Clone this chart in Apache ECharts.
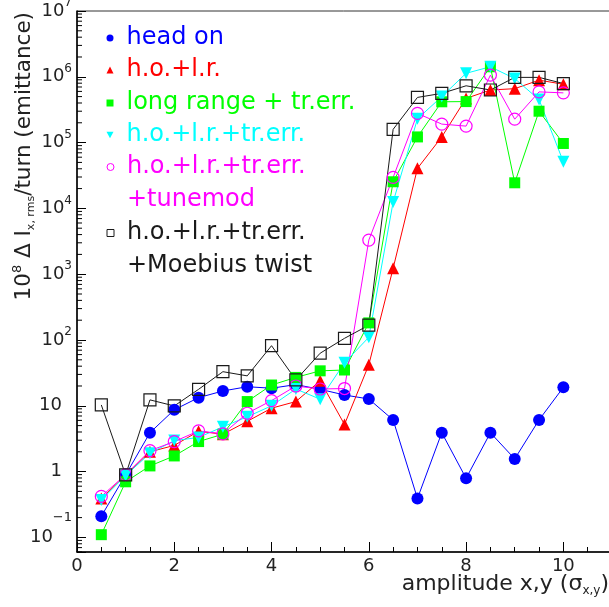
<!DOCTYPE html>
<html><head><meta charset="utf-8">
<script src="https://cdn.jsdelivr.net/npm/echarts@6/dist/echarts.min.js"></script>
<style>html,body{margin:0;padding:0;background:#fff}#c{width:609px;height:607px}</style>
</head><body><div id="c"></div>
<script>
// ---- data ----
const amplitudes = [0.5, 1, 1.5, 2, 2.5, 3, 3.5, 4, 4.5, 5, 5.5, 6, 6.5, 7, 7.5, 8, 8.5, 9, 9.5, 10];
const headOn   = [0.21, 0.89, 3.9, 8.7, 13.3, 16.8, 19.5, 18.5, 21, 17.8, 14.6, 12.7, 6.1, 0.39, 3.9, 0.79, 3.9, 1.56, 6.1, 19.1];
const hoLr     = [0.39, 0.88, 2.0, 2.5, 4.1, 3.7, 5.8, 9.2, 11.6, 24, 5.2, 42, 1230, 40600, 122000, 470000, 630000, 660000, 890000, 770000];
const lrTrErr  = [0.11, 0.70, 1.22, 1.73, 2.86, 3.7, 11.6, 20.7, 27, 34, 35, 182, 25400, 122000, 417000, 420000, 1420000, 24500, 300000, 97000];
const hoLrTr   = [0.37, 0.87, 1.9, 2.96, 3.3, 4.8, 6.8, 10, 18, 12.6, 45, 110, 12500, 230000, 500000, 1130000, 1420000, 940000, 450000, 51000];
const tunemod  = [0.42, 0.9, 2.08, 2.86, 4.15, 3.75, 7.7, 12, 20, 18, 18.3, 3300, 29600, 278000, 191000, 178000, 1060000, 227000, 590000, 570000];
const moebius  = [10.3, 0.89, 12.3, 9.95, 17.8, 33, 28.5, 82, 24.7, 63, 106, 168, 159000, 486000, 560000, 730000, 630000, 980000, 980000, 790000];
const seriesNames = ['head on', 'h.o.+l.r.', 'long range + tr.err.', 'h.o.+l.r.+tr.err.',
  'h.o.+l.r.+tr.err.\n+tunemod', 'h.o.+l.r.+tr.err.\n+Moebius twist'];
const seriesValues = [headOn, hoLr, lrTrErr, hoLrTr, tunemod, moebius];
const xTitle = 'amplitude x,y (σ';
const xTitleSub = 'x,y';
const yTitle = ['10', '8', ' Δ I', 'x, rms', '/turn (emittance)'];

// ---- styles ----
const FONT = 'DejaVu Sans';
const colors = ['#0000ff', '#ff0000', '#00ff00', '#00ffff', '#ff00ff', '#1a1a1a'];
const symbols = ['circle', 'triangle', 'rect', 'path://M0,0L10,0L5,9Z', 'circle', 'rect'];
const sizes = [12, 12, 11, 12, 12, 12];
const hollow = [false, false, false, false, true, true];
const legendCenters = [38, 70, 103, 135, 167, 233];

const series = seriesNames.map((nm, i) => ({
  name: nm, type: 'line', animation: false, showAllSymbol: true,
  data: amplitudes.map((x, j) => [x, seriesValues[i][j]]),
  symbol: symbols[i], symbolSize: sizes[i],
  lineStyle: { color: colors[i], width: 1 },
  itemStyle: hollow[i]
    ? { color: 'rgba(0,0,0,0)', borderColor: colors[i], borderWidth: 1.2 }
    : { color: colors[i], borderWidth: 0 },
  emphasis: { disabled: true }
}));

// minor log ticks on the y axis
const minorTickValues = [];
for (let e = -2; e < 7; e++) for (let k = 2; k <= 9; k++) {
  const v = k * Math.pow(10, e);
  if (v >= 0.06 && v <= 1e7) minorTickValues.push(v);
}
series.push({
  type: 'custom', silent: true, animation: false, clip: false, z: 5,
  data: minorTickValues.map(v => [0, v]),
  renderItem: (p, api) => {
    const c = api.coord([0, api.value(1)]);
    return { type: 'line', shape: { x1: c[0], y1: c[1], x2: c[0] + 5, y2: c[1] },
      style: { stroke: '#000', lineWidth: 1 } };
  }
});

const legends = seriesNames.map((nm, i) => {
  const two = nm.indexOf('\n') >= 0;
  return {
    data: [{ name: nm, icon: symbols[i] }],
    formatter: n => {
      const lines = n.split('\n').map(s => '{sp|}{t|' + s + '}');
      return two ? '{t| }\n' + lines.join('\n') : lines.join('\n');
    },
    left: 106.5, top: legendCenters[i] - (two ? 49.5 : 16.5),
    orient: 'vertical', padding: 0, itemGap: 0, itemWidth: 7, itemHeight: 7,
    selectedMode: false,
    itemStyle: hollow[i] ? { borderWidth: 1 } : { borderWidth: 0 },
    textStyle: { color: colors[i], fontSize: 24, fontFamily: FONT, lineHeight: 33,
      rich: { sp: { width: 8, lineHeight: 33 },
              t: { color: colors[i], fontSize: 24, fontFamily: FONT, lineHeight: 33 } } }
  };
});

const chart = echarts.init(document.getElementById('c'), null, { renderer: 'canvas' });
chart.setOption({
  backgroundColor: '#fff',
  animation: false,
  grid: { left: 77, top: 11, width: 535, height: 541, show: true, borderColor: '#333', borderWidth: 1,
    containLabel: false, outerBoundsMode: 'none' },
  legend: legends,
  xAxis: {
    type: 'value', min: 0, max: 11, interval: 2,
    axisLine: { show: true, onZero: false, lineStyle: { color: '#000', width: 1.5 } },
    axisTick: { show: true, inside: true, length: 10, lineStyle: { color: '#000' } },
    minorTick: { show: true, splitNumber: 4, length: 5, lineStyle: { color: '#000' } },
    splitLine: { show: false },
    axisLabel: { margin: 5, color: '#222', fontSize: 18, fontFamily: FONT,
      formatter: v => (v > 10.5 ? '' : String(v)) },
    name: '{n|' + xTitle + '}{s|' + xTitleSub + '}{n|)}',
    nameLocation: 'end', nameGap: -3, nameMoveOverlap: false,
    nameTextStyle: { align: 'right', verticalAlign: 'top', padding: [19, 0, 0, 0],
      rich: { n: { fontSize: 22, fontFamily: FONT, color: '#222', lineHeight: 26 },
              s: { fontSize: 12, fontFamily: FONT, color: '#222', verticalAlign: 'bottom' } } }
  },
  yAxis: {
    type: 'log', logBase: 10, min: 0.06, max: 1e7, splitNumber: 9,
    axisLine: { show: true, lineStyle: { color: '#000', width: 1.5 } },
    axisTick: { show: true, inside: true, length: 9, lineStyle: { color: '#000' } },
    splitLine: { show: false },
    axisLabel: {
      margin: 5, color: '#222',
      formatter: v => {
        const e = Math.log10(v), n = Math.round(e);
        if (Math.abs(e - n) > 1e-6) return '';
        if (n === 0) return '{b|1}{p|}';
        if (n === 1) return '{b|10}{p|}';
        if (n < 0) return '{bb|10}{m|\u2212' + (-n) + '}';
        return '{b|10}{s|' + n + '}';
      },
      rich: {
        b: { fontSize: 18, fontFamily: FONT, color: '#222', lineHeight: 28 },
        bb: { fontSize: 18, fontFamily: FONT, color: '#222', lineHeight: 52 },
        s: { fontSize: 12, fontFamily: FONT, color: '#222', verticalAlign: 'top' },
        m: { fontSize: 13, fontFamily: FONT, color: '#222', verticalAlign: 'top' },
        p: { width: 10 }
      }
    },
    name: '{n|' + yTitle[0] + '}{u|' + yTitle[1] + '}{n|' + yTitle[2] + '}{d|' + yTitle[3] + '}{n|' + yTitle[4] + '}',
    nameLocation: 'end', nameRotate: 90, nameGap: -1, nameMoveOverlap: false,
    nameTextStyle: { align: 'right', verticalAlign: 'bottom', padding: [0, 0, 40, 0],
      rich: { n: { fontSize: 21.5, fontFamily: FONT, color: '#222', lineHeight: 26 },
              u: { fontSize: 13, fontFamily: FONT, color: '#222', verticalAlign: 'top' },
              d: { fontSize: 11, fontFamily: FONT, color: '#222', verticalAlign: 'bottom' } } }
  },
  series: series
});
</script></body></html>
